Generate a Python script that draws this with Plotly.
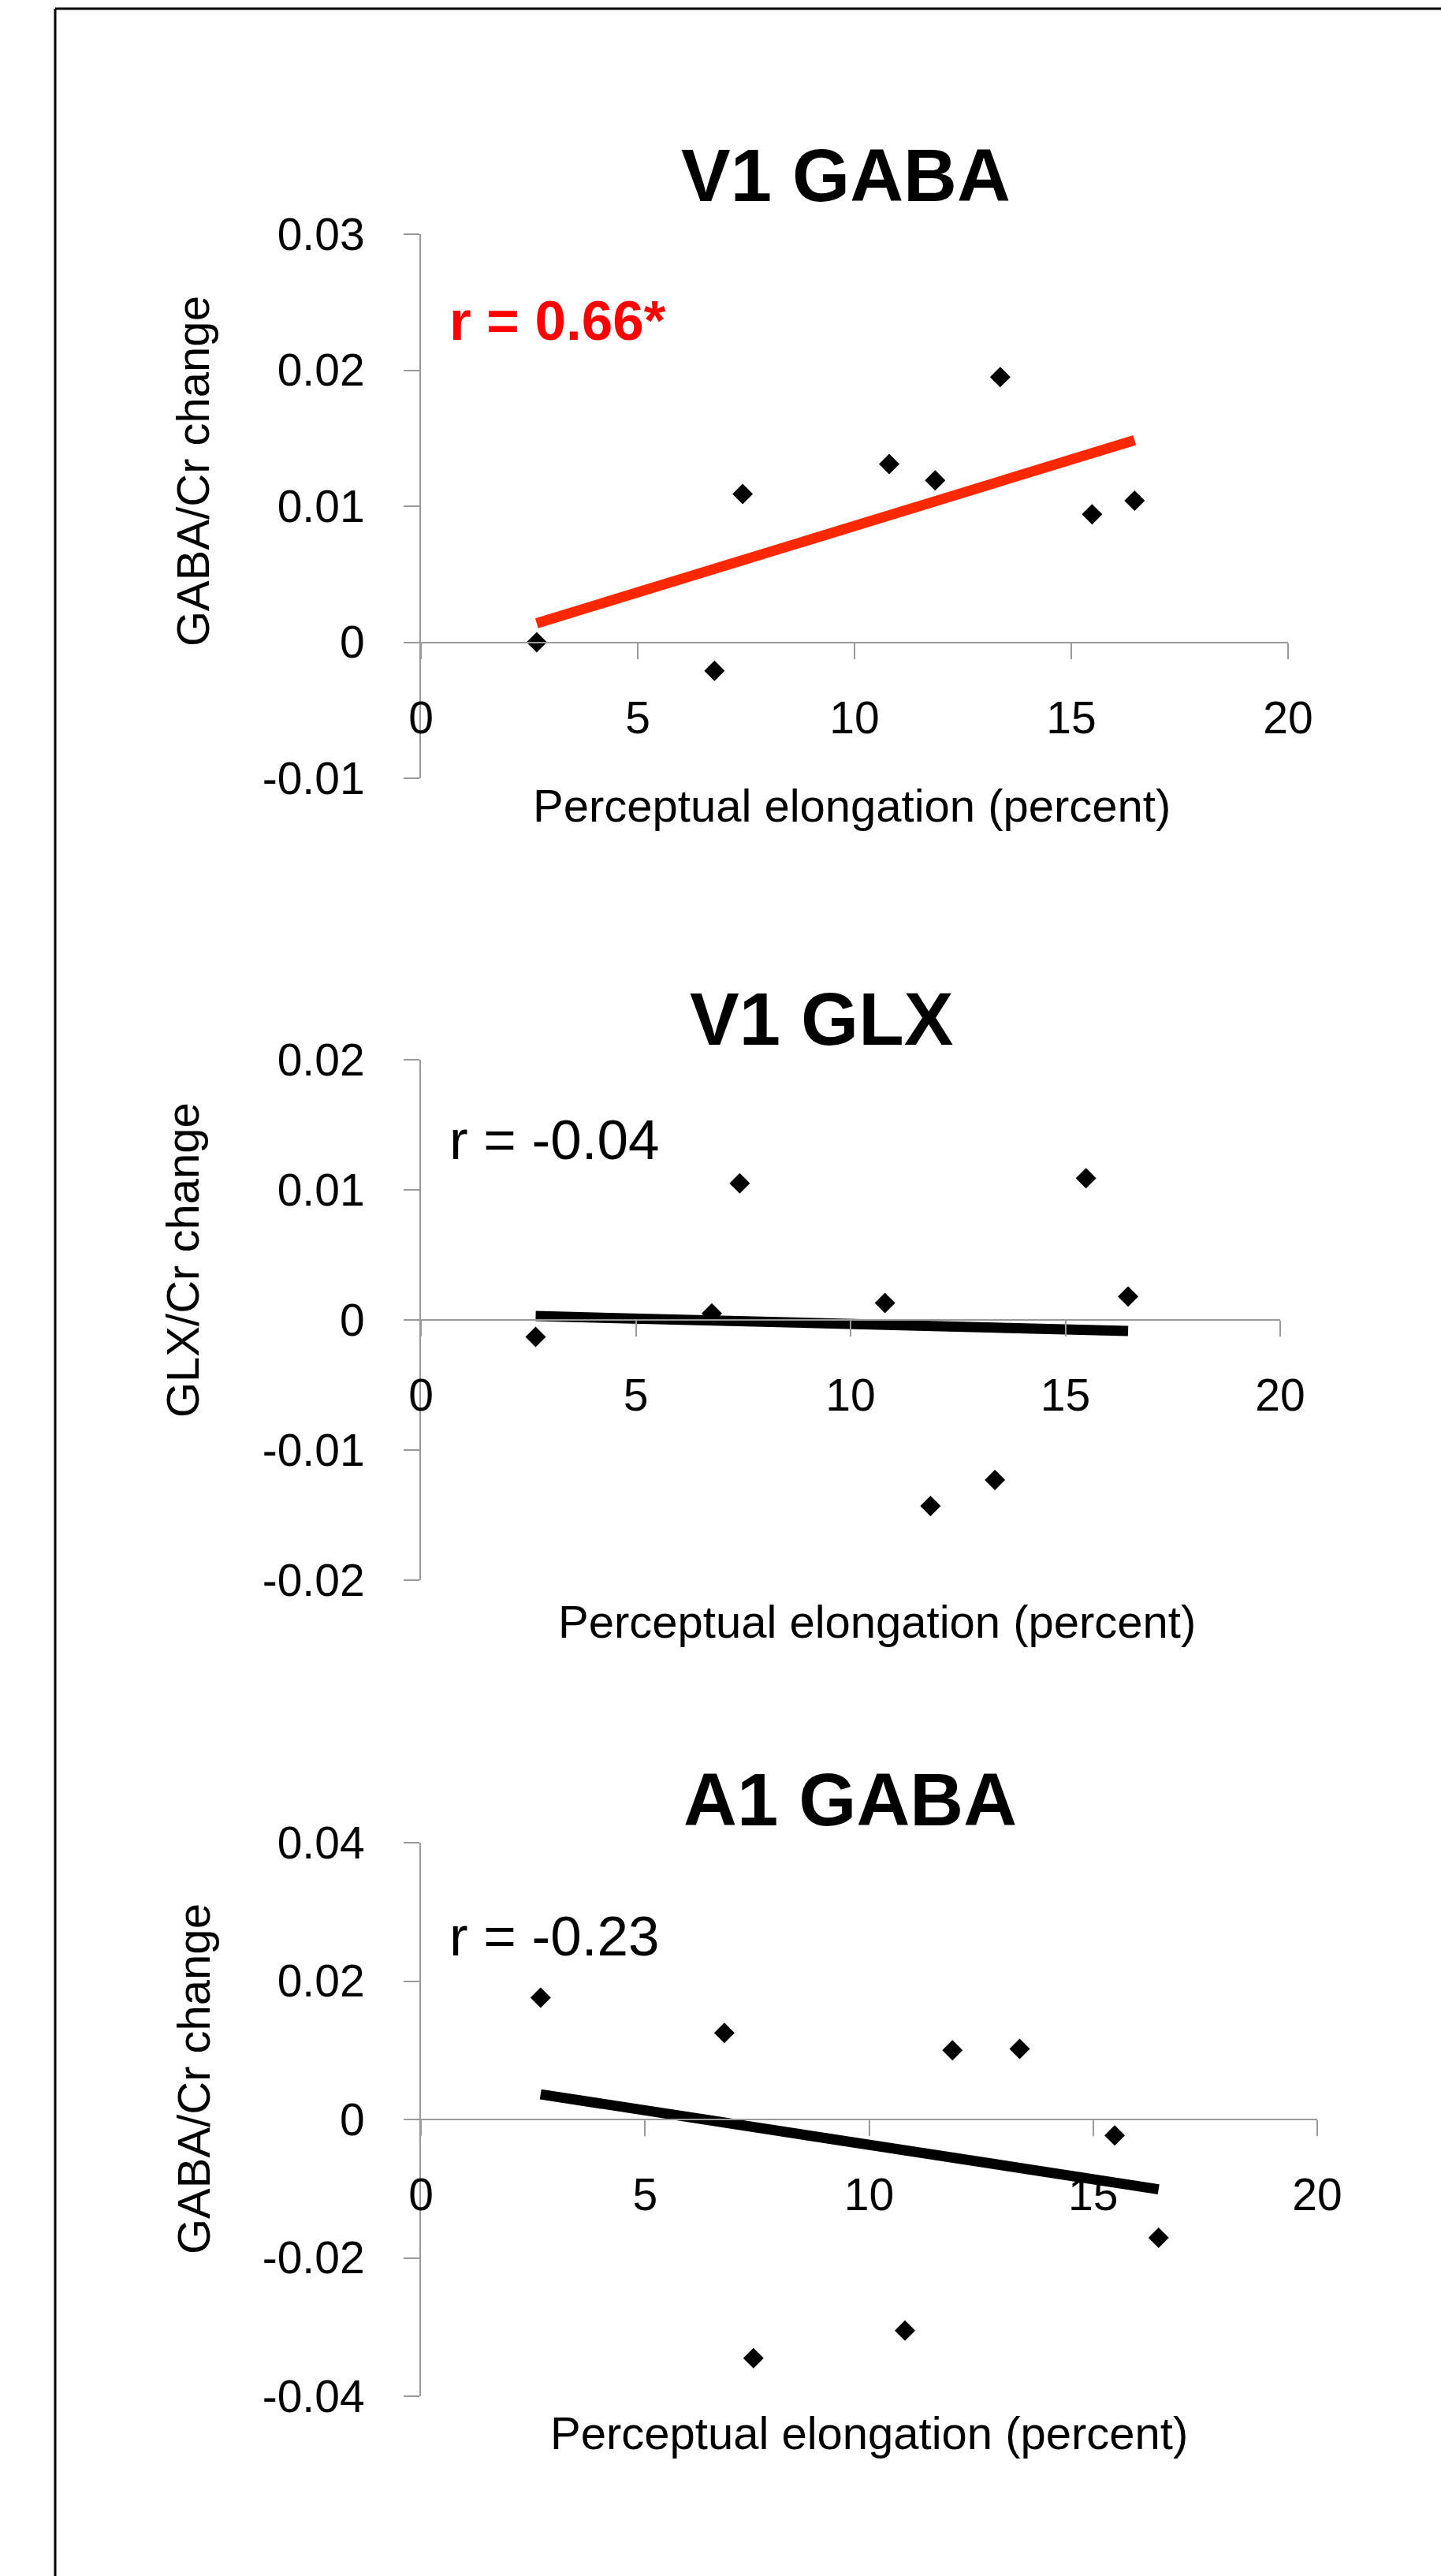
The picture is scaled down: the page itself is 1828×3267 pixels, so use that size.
import numpy as np
import plotly.graph_objects as go

# ---------------- data ----------------
elongation = [2.67, 6.77, 7.42, 10.80, 11.86, 13.36, 15.48, 16.46]
v1_gaba = [0.0000, -0.0021, 0.0109, 0.0131, 0.0119, 0.0195, 0.0094, 0.0104]
v1_glx = [-0.0013, 0.0005, 0.0105, 0.0013, -0.0143, -0.0123, 0.0109, 0.0018]
a1_gaba = [0.0176, 0.0125, -0.0345, -0.0305, 0.0100, 0.0102, -0.0023, -0.0171]

titles = ["V1 GABA", "V1 GLX", "A1 GABA"]
y_titles = ["GABA/Cr change", "GLX/Cr change", "GABA/Cr change"]
x_title = "Perceptual elongation (percent)"
r_labels = ["r = 0.66*", "r = -0.04", "r = -0.23"]

x_ticks = [0, 5, 10, 15, 20]
x_ticktext = ["0", "5", "10", "15", "20"]
y_ticks_1 = [-0.01, 0, 0.01, 0.02, 0.03]
y_ticktext_1 = ["-0.01", "0", "0.01", "0.02", "0.03"]
y_ticks_2 = [-0.02, -0.01, 0, 0.01, 0.02]
y_ticktext_2 = ["-0.02", "-0.01", "0", "0.01", "0.02"]
y_ticks_3 = [-0.04, -0.02, 0, 0.02, 0.04]
y_ticktext_3 = ["-0.04", "-0.02", "0", "0.02", "0.04"]

# ---------------- layout geometry (pixels) ----------------
W, H = 1828, 3267
FONT = "Liberation Sans, Arial, sans-serif"
AXIS_GREY = "#9a9a9a"

panels = [
    dict(y=v1_gaba, yt=y_ticks_1, ytt=y_ticktext_1, x0=534, x1=1634, top=297, bot=987,
         title_xy=(1073, 223), r_xy=(568, 407), r_color="#FF0000", r_bold=True,
         line_color="#FF2800", ytitle_xy=(245, 598), xtitle_xy=(1080, 1022)),
    dict(y=v1_glx, yt=y_ticks_2, ytt=y_ticktext_2, x0=534, x1=1624, top=1344, bot=2004,
         title_xy=(1042, 1293), r_xy=(568, 1445), r_color="#000000", r_bold=False,
         line_color="#000000", ytitle_xy=(232, 1598), xtitle_xy=(1112, 2056)),
    dict(y=a1_gaba, yt=y_ticks_3, ytt=y_ticktext_3, x0=534, x1=1671, top=2337, bot=3039,
         title_xy=(1078, 2282), r_xy=(568, 2455), r_color="#000000", r_bold=False,
         line_color="#000000", ytitle_xy=(245, 2637), xtitle_xy=(1102, 3085)),
]


def px_x(p):
    return p / W


def px_y(p):
    return 1 - p / H


fig = go.Figure()
layout = dict(
    width=W, height=H,
    margin=dict(l=0, r=0, t=0, b=0),
    paper_bgcolor="white", plot_bgcolor="rgba(0,0,0,0)",
    showlegend=False,
    font=dict(family=FONT, color="black"),
    annotations=[], shapes=[],
)

for i, p in enumerate(panels):
    n = "" if i == 0 else str(i + 1)
    xa, ya = "x" + n, "y" + n
    ymin, ymax = p["yt"][0], p["yt"][-1]
    ydom = [px_y(p["bot"]), px_y(p["top"])]
    zero_pos = ydom[0] + (0 - ymin) / (ymax - ymin) * (ydom[1] - ydom[0])

    # regression trend line
    slope, intercept = np.polyfit(elongation, p["y"], 1)
    lx = [min(elongation), max(elongation)]
    ly = [slope * v + intercept for v in lx]
    fig.add_trace(go.Scatter(x=lx, y=ly, mode="lines", xaxis=xa, yaxis=ya,
                             line=dict(color=p["line_color"], width=13),
                             hoverinfo="skip"))
    fig.add_trace(go.Scatter(x=elongation, y=p["y"], mode="markers", xaxis=xa, yaxis=ya,
                             marker=dict(symbol="diamond", size=20, color="black")))

    layout["xaxis" + n] = dict(
        domain=[px_x(p["x0"]), px_x(p["x1"])], range=[0, 20],
        anchor="free", position=zero_pos,
        tickvals=x_ticks, ticktext=x_ticktext,
        ticks="outside", ticklen=20, tickwidth=2, tickcolor=AXIS_GREY,
        showline=True, linecolor=AXIS_GREY, linewidth=2,
        showgrid=False, zeroline=False, automargin=False,
        tickfont=dict(family=FONT, size=57, color="black"),
        ticklabelstandoff=26,
    )
    layout["yaxis" + n] = dict(
        domain=ydom, range=[ymin, ymax], anchor=xa,
        tickvals=p["yt"], ticktext=p["ytt"],
        ticks="outside", ticklen=20, tickwidth=2, tickcolor=AXIS_GREY,
        showline=True, linecolor=AXIS_GREY, linewidth=2,
        showgrid=False, zeroline=False, automargin=False,
        tickfont=dict(family=FONT, size=57, color="black"),
        ticklabelstandoff=38,
    )

    ann = layout["annotations"]
    ann.append(dict(text="<b>%s</b>" % titles[i], xref="paper", yref="paper",
                    x=px_x(p["title_xy"][0]), y=px_y(p["title_xy"][1]),
                    xanchor="center", yanchor="middle", showarrow=False,
                    font=dict(family=FONT, size=94, color="black")))
    rtxt = "<b>%s</b>" % r_labels[i] if p["r_bold"] else r_labels[i]
    ann.append(dict(text=rtxt, xref="paper", yref="paper",
                    x=px_x(p["r_xy"][0]), y=px_y(p["r_xy"][1]),
                    xanchor="left", yanchor="middle", showarrow=False,
                    font=dict(family=FONT, size=71, color=p["r_color"])))
    ann.append(dict(text=y_titles[i], xref="paper", yref="paper",
                    x=px_x(p["ytitle_xy"][0]), y=px_y(p["ytitle_xy"][1]),
                    xanchor="center", yanchor="middle", textangle=-90, showarrow=False,
                    font=dict(family=FONT, size=58, color="black")))
    ann.append(dict(text=x_title, xref="paper", yref="paper",
                    x=px_x(p["xtitle_xy"][0]), y=px_y(p["xtitle_xy"][1]),
                    xanchor="center", yanchor="middle", showarrow=False,
                    font=dict(family=FONT, size=58, color="black")))

# outer frame (left and top edges visible)
layout["shapes"].append(dict(type="line", xref="paper", yref="paper",
                             x0=px_x(70), x1=px_x(70), y0=0, y1=px_y(11),
                             line=dict(color="black", width=3)))
layout["shapes"].append(dict(type="line", xref="paper", yref="paper",
                             x0=px_x(70), x1=1, y0=px_y(11), y1=px_y(11),
                             line=dict(color="black", width=3)))

fig.update_layout(**layout)
fig.write_html("out.html")
